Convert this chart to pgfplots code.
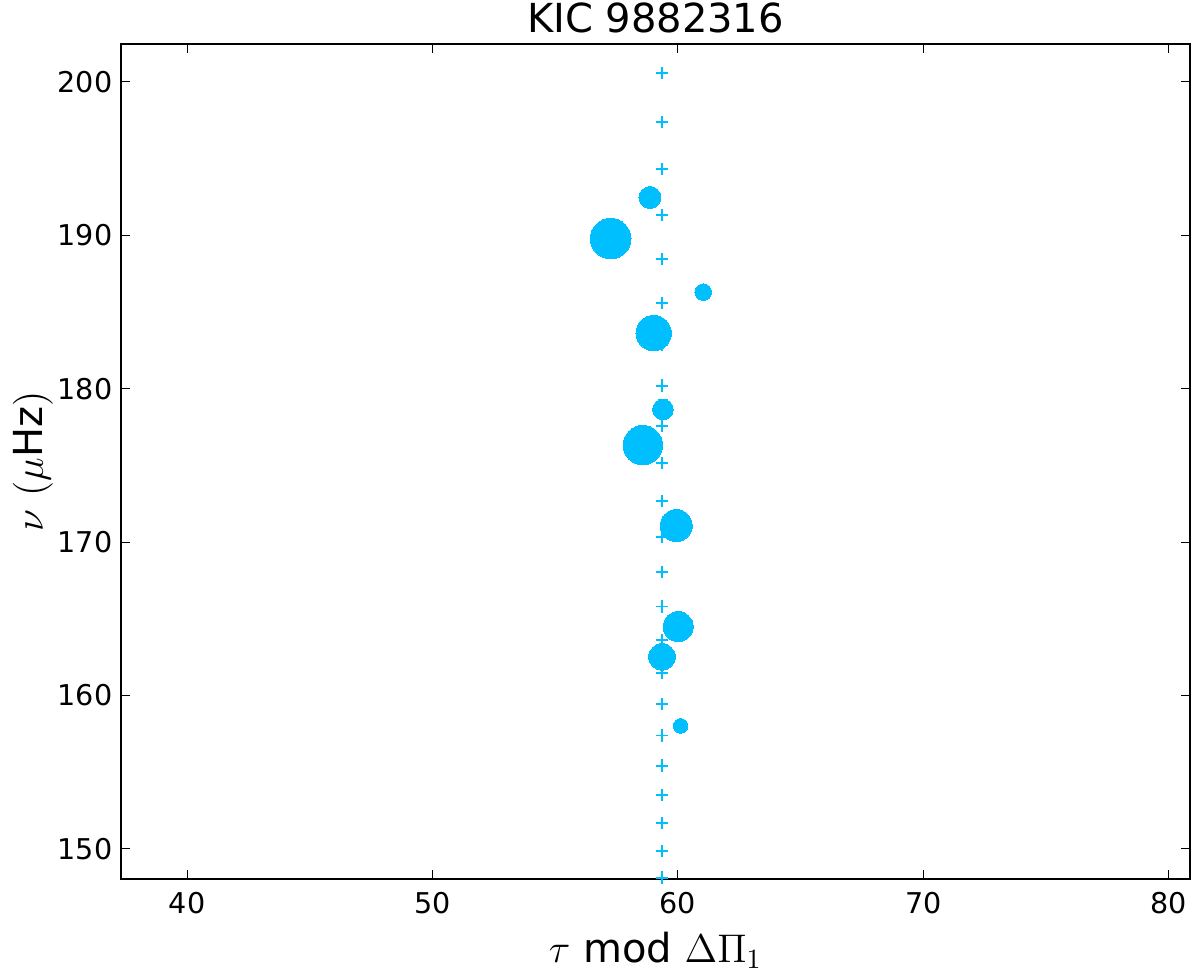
\RequirePackage{fix-cm}
\documentclass[border=0pt]{standalone}
\usepackage[no-math]{fontspec}
\setmainfont{DejaVu Sans}
\usepackage{pgfplots}
\pgfplotsset{compat=1.18}
\definecolor{skyb}{RGB}{0,191,255}

% plus markers: period grid
\pgfplotstableread{
x y
59.35 200.57
59.35 197.37
59.35 194.31
59.35 191.33
59.35 188.44
59.35 185.57
59.35 182.86
59.35 180.20
59.35 177.59
59.35 175.14
59.35 172.69
59.35 170.32
59.35 168.04
59.35 165.80
59.35 163.62
59.35 161.49
59.35 159.43
59.35 157.39
59.35 155.43
59.35 153.52
59.35 151.67
59.35 149.87
59.35 148.13
}\gridtab

\pgfplotsset{mode/.style={only marks, mark=*, color=skyb, line width=0pt, mark size=#1}}

\begin{document}
\begin{tikzpicture}
\begin{axis}[
    scale only axis,
    width=1069*0.36pt,
    height=835*0.36pt,
    xmin=37.31, xmax=80.86,
    ymin=148.04, ymax=202.46,
    xtick={40,50,...,80},
    ytick={150,160,...,200},
    tick align=inside,
    major tick length=3.2pt,
    tick style={black, line width=0.36pt},
    axis line style={line width=0.72pt},
    /pgf/number format/assume math mode=true,
    ticklabel style={font=\fontsize{10.3}{12}\selectfont},
    xticklabel style={inner sep=0pt, yshift=-4.7pt},
    yticklabel style={inner sep=0pt, xshift=-2.9pt},
    every axis title shift=0pt,
    title={KIC 9882316},
    title style={at={(axis description cs:0.5,1.0132)}, anchor=base, inner sep=0pt,
                 font=\fontsize{14.4}{17}\selectfont},
    xlabel={$\tau$ mod $\Delta\Pi_1$},
    xlabel style={at={(axis description cs:0.5,-0.1006)}, anchor=base, inner sep=0pt,
                  font=\fontsize{14.4}{17}\selectfont},
    ylabel={$\nu$ $(\mu$Hz$)$},
    ylabel style={at={(axis description cs:-0.073,0.5)}, anchor=base, inner sep=0pt,
                  font=\fontsize{14.4}{17}\selectfont},
]
\addplot[only marks, mark=+, mark size=2.2pt, color=skyb, line width=0.7pt]
    table[x=x, y=y] {\gridtab};
% observed modes, marker radius from amplitude
\addplot[mode=3.96pt] coordinates {(58.86,192.46)};
\addplot[mode=7.31pt] coordinates {(57.26,189.78)};
\addplot[mode=3.00pt] coordinates {(61.03,186.29)};
\addplot[mode=6.37pt] coordinates {(59.01,183.62)};
\addplot[mode=3.71pt] coordinates {(59.39,178.64)};
\addplot[mode=7.09pt] coordinates {(58.57,176.32)};
\addplot[mode=5.76pt] coordinates {(59.93,171.07)};
\addplot[mode=5.40pt] coordinates {(60.01,164.49)};
\addplot[mode=4.79pt] coordinates {(59.35,162.52)};
\addplot[mode=2.63pt] coordinates {(60.11,158.02)};
\end{axis}
\pgfresetboundingbox
\path[use as bounding box] ([xshift=-121*0.36pt, yshift=-94*0.36pt]current axis.south west)
    rectangle ([xshift=10*0.36pt, yshift=44*0.36pt]current axis.north east);
\end{tikzpicture}
\end{document}
